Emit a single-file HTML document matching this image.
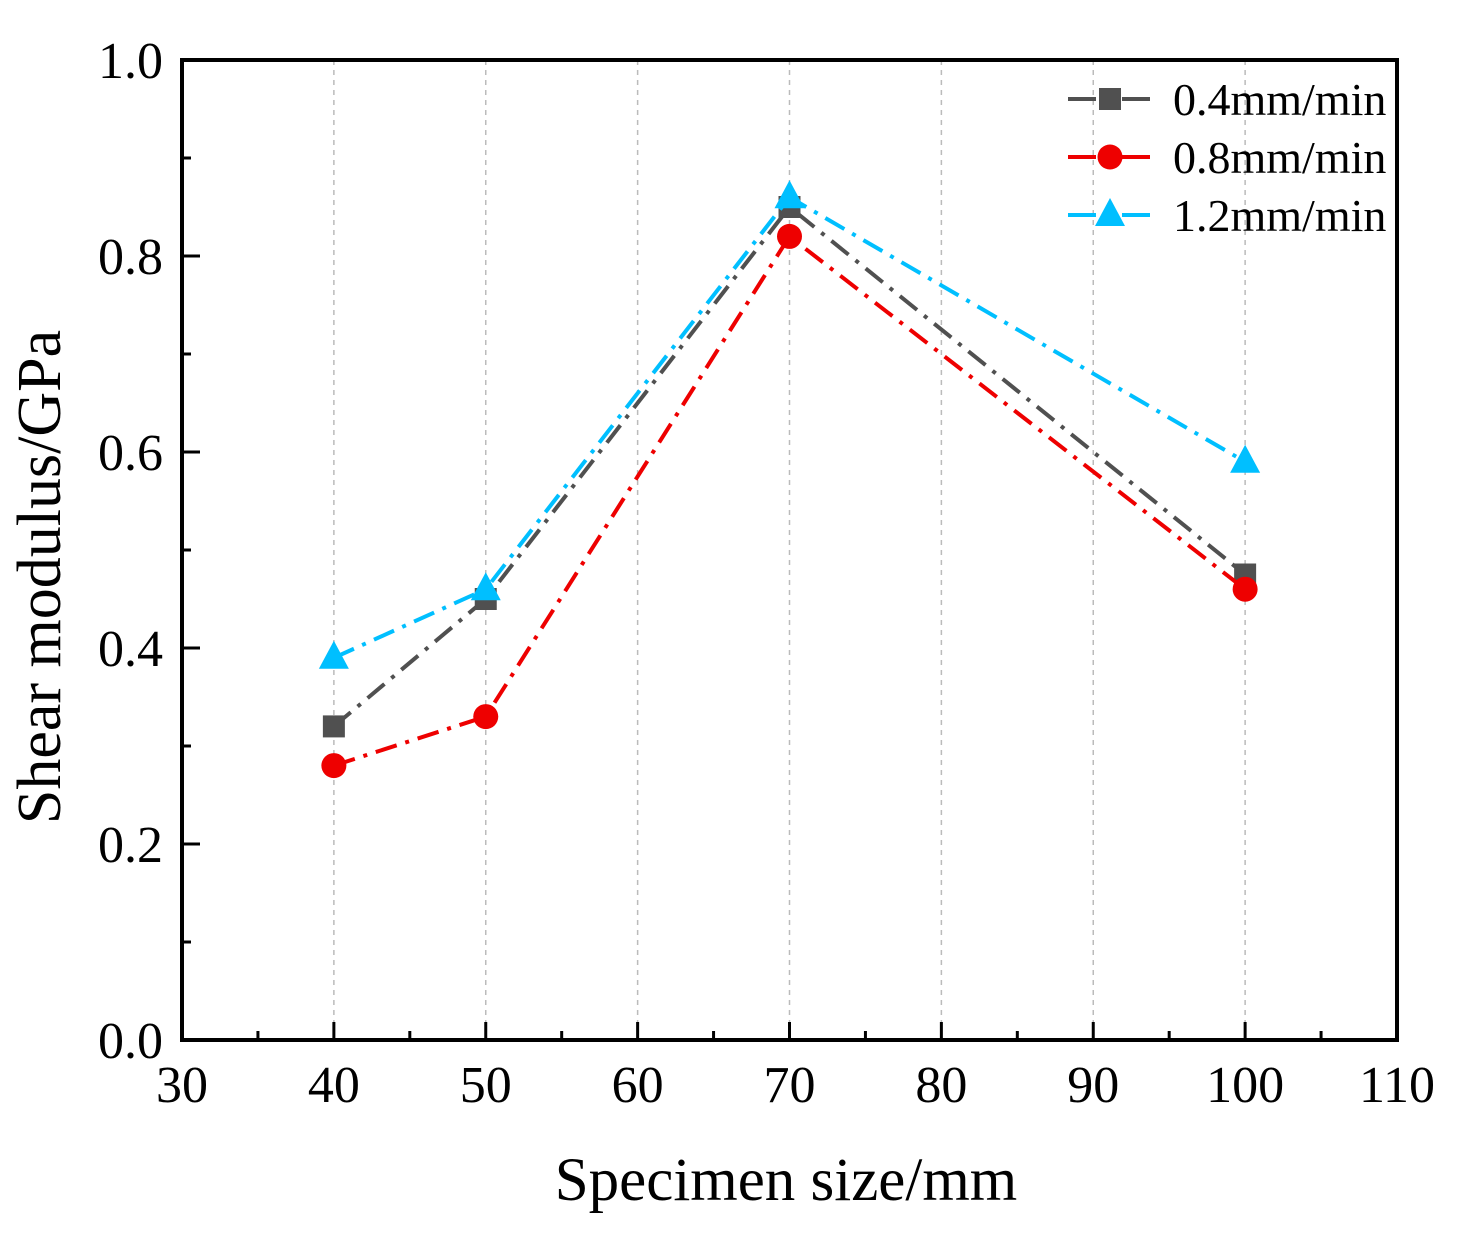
<!DOCTYPE html>
<html><head><meta charset="utf-8"><style>
html,body{margin:0;padding:0;background:#fff;}
svg{display:block;font-family:"Liberation Serif",serif;}
</style></head><body>
<svg id="chart" width="1466" height="1236" xmlns="http://www.w3.org/2000/svg">
<g id="grid"></g>
<g id="series"></g>
<g id="axes"></g>
<text x="786" y="1200" font-size="61" text-anchor="middle">Specimen size/mm</text>
<text transform="translate(60,577) rotate(-90)" font-size="62" text-anchor="middle">Shear modulus/GPa</text>
<g id="legend"></g>
</svg>
<script>
const categories = [40, 50, 70, 100];
const series04 = [0.32, 0.45, 0.85, 0.475];
const series08 = [0.28, 0.33, 0.82, 0.46];
const series12 = [0.39, 0.46, 0.86, 0.59];
const seriesNames = ["0.4mm/min", "0.8mm/min", "1.2mm/min"];
const xTicks = [30, 40, 50, 60, 70, 80, 90, 100, 110];
const yTicks = [0.0, 0.2, 0.4, 0.6, 0.8, 1.0];

const L=182,R=1397,T=60,B=1040;
const xMin=30,xMax=110,yMin=0,yMax=1;
function sx(v){return L+(v-xMin)/(xMax-xMin)*(R-L);}
function sy(v){return B-(v-yMin)/(yMax-yMin)*(B-T);}
const NS="http://www.w3.org/2000/svg";
function mk(tag,attrs,parent){const e=document.createElementNS(NS,tag);for(const k in attrs)e.setAttribute(k,attrs[k]);parent.appendChild(e);return e;}
const grid=document.getElementById('grid'),axes=document.getElementById('axes'),ser=document.getElementById('series'),leg=document.getElementById('legend');

xTicks.forEach((t,i)=>{
  const x=sx(t);
  if(i>0&&i<xTicks.length-1){
    const g=mk('line',{x1:x,x2:x,y1:T,y2:B,stroke:'#bbb','stroke-width':1.5,'stroke-dasharray':'5,5'},grid);
    
    
  }
  const tk=mk('line',{x1:x,x2:x,y1:B,y2:B-18,stroke:'#000','stroke-width':3},axes);
  
  
  if(i<xTicks.length-1){
    const mx=sx(t+5);
    const m=mk('line',{x1:mx,x2:mx,y1:B,y2:B-9,stroke:'#000','stroke-width':3},axes);
    
    
  }
  const lb=mk('text',{x:x,y:1102,'font-size':52,'text-anchor':'middle'},axes);
  lb.textContent=t;
  
  
});
yTicks.forEach((t,i)=>{
  const y=sy(t);
  const tk=mk('line',{x1:L,x2:L+18,y1:y,y2:y,stroke:'#000','stroke-width':3},axes);
  
  
  if(i<yTicks.length-1){
    const my=sy(t+0.1);
    const m=mk('line',{x1:L,x2:L+9,y1:my,y2:my,stroke:'#000','stroke-width':3},axes);
    
    
  }
  const lb=mk('text',{x:163,y:y+18,'font-size':52,'text-anchor':'end'},axes);
  lb.textContent=t.toFixed(1);
  
  
});
const frame=mk('rect',{x:L,y:T,width:R-L,height:B-T,fill:'none',stroke:'#000','stroke-width':4},axes);



const styles=[{c:'#505050',m:'square',d:series04},{c:'#ee0000',m:'circle',d:series08},{c:'#00bfff',m:'triangle',d:series12}];
function marker(type,x,y,color,parent){
  let e;
  if(type==='square')e=mk('rect',{x:x-11,y:y-11,width:22,height:22,fill:color},parent);
  else if(type==='circle')e=mk('circle',{cx:x,cy:y,r:12.5,fill:color},parent);
  else e=mk('polygon',{points:`${x},${y-17} ${x-15},${y+11} ${x+15},${y+11}`,fill:color},parent);
  return e;
}
styles.forEach((s,si)=>{
  const pts=categories.map((c,i)=>sx(c)+','+sy(s.d[i])).join(' ');
  const pl=mk('polyline',{points:pts,fill:'none',stroke:s.c,'stroke-width':4,'stroke-dasharray':'22,9,4,9'},ser);
  
  
  categories.forEach((c,i)=>{
    const m=marker(s.m,sx(c),sy(s.d[i]),s.c,ser);
    
    
  });
  const ly=99+si*58;
  const l1=mk('line',{x1:1068,x2:1096,y1:ly,y2:ly,stroke:s.c,'stroke-width':4},leg);
  
  
  const l2=mk('line',{x1:1122,x2:1150,y1:ly,y2:ly,stroke:s.c,'stroke-width':4},leg);
  
  
  const lm=marker(s.m,1110,ly,s.c,leg);
  
  
  const lt=mk('text',{x:1173,y:ly+16,'font-size':46},leg);
  lt.textContent=seriesNames[si];
  
  
});
</script>
</body></html>
